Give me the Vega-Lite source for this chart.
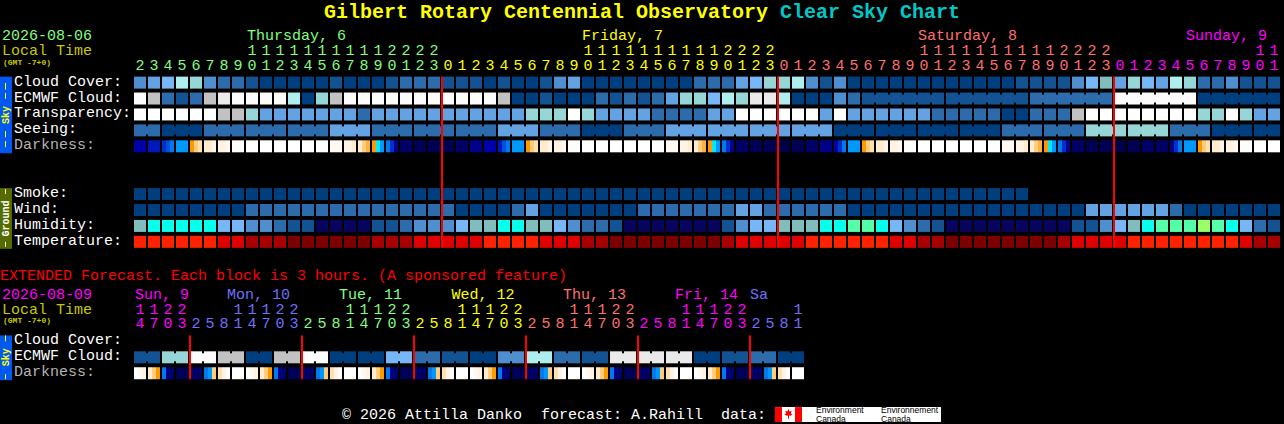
{
"$schema":"https://vega.github.io/schema/vega-lite/v6.json",
"description":"Clear Sky Chart block grid",
"width":1284,"height":424,"padding":0,
"autosize":{"type":"fit","contains":"padding"},
"background":"#000000",
"view":{"stroke":null},
"datasets":{
"cells":[
{"line":0,"slot":0,"level":"c30"},{"line":0,"slot":1,"level":"c40"},{"line":0,"slot":2,"level":"c50"},{"line":0,"slot":3,"level":"c70"},{"line":0,"slot":4,"level":"c60"},{"line":0,"slot":5,"level":"c30"},{"line":0,"slot":6,"level":"c20"},{"line":0,"slot":7,"level":"c20"},{"line":0,"slot":8,"level":"c10"},{"line":0,"slot":9,"level":"c0"},{"line":0,"slot":10,"level":"c0"},{"line":0,"slot":11,"level":"c0"},{"line":0,"slot":12,"level":"c0"},{"line":0,"slot":13,"level":"c0"},{"line":0,"slot":14,"level":"c10"},{"line":0,"slot":15,"level":"c0"},{"line":0,"slot":16,"level":"c0"},{"line":0,"slot":17,"level":"c0"},{"line":0,"slot":18,"level":"c10"},{"line":0,"slot":19,"level":"c20"},{"line":0,"slot":20,"level":"c20"},{"line":0,"slot":21,"level":"c20"},{"line":0,"slot":22,"level":"c10"},{"line":0,"slot":23,"level":"c10"},{"line":0,"slot":24,"level":"c10"},{"line":0,"slot":25,"level":"c0"},{"line":0,"slot":26,"level":"c10"},{"line":0,"slot":27,"level":"c0"},{"line":0,"slot":28,"level":"c0"},{"line":0,"slot":29,"level":"c10"},{"line":0,"slot":30,"level":"c30"},{"line":0,"slot":31,"level":"c40"},{"line":0,"slot":32,"level":"c0"},{"line":0,"slot":33,"level":"c0"},{"line":0,"slot":34,"level":"c0"},{"line":0,"slot":35,"level":"c0"},{"line":0,"slot":36,"level":"c0"},{"line":0,"slot":37,"level":"c0"},{"line":0,"slot":38,"level":"c0"},{"line":0,"slot":39,"level":"c0"},{"line":0,"slot":40,"level":"c20"},{"line":0,"slot":41,"level":"c20"},{"line":0,"slot":42,"level":"c20"},{"line":0,"slot":43,"level":"c40"},{"line":0,"slot":44,"level":"c50"},{"line":0,"slot":45,"level":"c60"},{"line":0,"slot":46,"level":"c60"},{"line":0,"slot":47,"level":"c70"},{"line":0,"slot":48,"level":"c30"},{"line":0,"slot":49,"level":"c10"},{"line":0,"slot":50,"level":"c30"},{"line":0,"slot":51,"level":"c0"},{"line":0,"slot":52,"level":"c0"},{"line":0,"slot":53,"level":"c0"},{"line":0,"slot":54,"level":"c0"},{"line":0,"slot":55,"level":"c0"},{"line":0,"slot":56,"level":"c0"},{"line":0,"slot":57,"level":"c0"},{"line":0,"slot":58,"level":"c0"},{"line":0,"slot":59,"level":"c0"},{"line":0,"slot":60,"level":"c0"},{"line":0,"slot":61,"level":"c0"},{"line":0,"slot":62,"level":"c0"},{"line":0,"slot":63,"level":"c10"},{"line":0,"slot":64,"level":"c10"},{"line":0,"slot":65,"level":"c10"},{"line":0,"slot":66,"level":"c10"},{"line":0,"slot":67,"level":"c30"},{"line":0,"slot":68,"level":"c50"},{"line":0,"slot":69,"level":"c55"},{"line":0,"slot":70,"level":"c40"},{"line":0,"slot":71,"level":"c60"},{"line":0,"slot":72,"level":"c50"},{"line":0,"slot":73,"level":"c40"},{"line":0,"slot":74,"level":"c70"},{"line":0,"slot":75,"level":"c60"},{"line":0,"slot":76,"level":"c20"},{"line":0,"slot":77,"level":"c20"},{"line":0,"slot":78,"level":"c30"},{"line":0,"slot":79,"level":"c10"},{"line":0,"slot":80,"level":"c10"},{"line":0,"slot":81,"level":"c10"},
{"line":1,"slot":0,"level":"c100"},{"line":1,"slot":1,"level":"c80"},{"line":1,"slot":2,"level":"c20"},{"line":1,"slot":3,"level":"c10"},{"line":1,"slot":4,"level":"c20"},{"line":1,"slot":5,"level":"c80"},{"line":1,"slot":6,"level":"c90"},{"line":1,"slot":7,"level":"c100"},{"line":1,"slot":8,"level":"c100"},{"line":1,"slot":9,"level":"c100"},{"line":1,"slot":10,"level":"c100"},{"line":1,"slot":11,"level":"c70"},{"line":1,"slot":12,"level":"c0"},{"line":1,"slot":13,"level":"c60"},{"line":1,"slot":14,"level":"c80"},{"line":1,"slot":15,"level":"c100"},{"line":1,"slot":16,"level":"c100"},{"line":1,"slot":17,"level":"c100"},{"line":1,"slot":18,"level":"c100"},{"line":1,"slot":19,"level":"c100"},{"line":1,"slot":20,"level":"c100"},{"line":1,"slot":21,"level":"c100"},{"line":1,"slot":22,"level":"c100"},{"line":1,"slot":23,"level":"c100"},{"line":1,"slot":24,"level":"c100"},{"line":1,"slot":25,"level":"c100"},{"line":1,"slot":26,"level":"c80"},{"line":1,"slot":27,"level":"c0"},{"line":1,"slot":28,"level":"c0"},{"line":1,"slot":29,"level":"c10"},{"line":1,"slot":30,"level":"c0"},{"line":1,"slot":31,"level":"c0"},{"line":1,"slot":32,"level":"c0"},{"line":1,"slot":33,"level":"c20"},{"line":1,"slot":34,"level":"c10"},{"line":1,"slot":35,"level":"c20"},{"line":1,"slot":36,"level":"c10"},{"line":1,"slot":37,"level":"c20"},{"line":1,"slot":38,"level":"c40"},{"line":1,"slot":39,"level":"c60"},{"line":1,"slot":40,"level":"c60"},{"line":1,"slot":41,"level":"c50"},{"line":1,"slot":42,"level":"c70"},{"line":1,"slot":43,"level":"c60"},{"line":1,"slot":44,"level":"c90"},{"line":1,"slot":45,"level":"c90"},{"line":1,"slot":46,"level":"c70"},{"line":1,"slot":47,"level":"c0"},{"line":1,"slot":48,"level":"c0"},{"line":1,"slot":49,"level":"c0"},{"line":1,"slot":50,"level":"c30"},{"line":1,"slot":51,"level":"c20"},{"line":1,"slot":52,"level":"c10"},{"line":1,"slot":53,"level":"c10"},{"line":1,"slot":54,"level":"c10"},{"line":1,"slot":55,"level":"c10"},{"line":1,"slot":56,"level":"c10"},{"line":1,"slot":57,"level":"c10"},{"line":1,"slot":58,"level":"c10"},{"line":1,"slot":59,"level":"c10"},{"line":1,"slot":60,"level":"c10"},{"line":1,"slot":61,"level":"c10"},{"line":1,"slot":62,"level":"c10"},{"line":1,"slot":63,"level":"c10"},{"line":1,"slot":64,"level":"c20"},{"line":1,"slot":65,"level":"c20"},{"line":1,"slot":66,"level":"c20"},{"line":1,"slot":67,"level":"c20"},{"line":1,"slot":68,"level":"c20"},{"line":1,"slot":69,"level":"c20"},{"line":1,"slot":70,"level":"c100"},{"line":1,"slot":71,"level":"c100"},{"line":1,"slot":72,"level":"c100"},{"line":1,"slot":73,"level":"c100"},{"line":1,"slot":74,"level":"c100"},{"line":1,"slot":75,"level":"c100"},{"line":1,"slot":76,"level":"c0"},{"line":1,"slot":77,"level":"c0"},{"line":1,"slot":78,"level":"c0"},{"line":1,"slot":79,"level":"c0"},{"line":1,"slot":80,"level":"c0"},{"line":1,"slot":81,"level":"c0"},
{"line":2,"slot":0,"level":"w"},{"line":2,"slot":1,"level":"w"},{"line":2,"slot":2,"level":"w"},{"line":2,"slot":3,"level":"w"},{"line":2,"slot":4,"level":"w"},{"line":2,"slot":5,"level":"w"},{"line":2,"slot":6,"level":"c80"},{"line":2,"slot":7,"level":"c80"},{"line":2,"slot":8,"level":"c60"},{"line":2,"slot":9,"level":"c40"},{"line":2,"slot":10,"level":"c40"},{"line":2,"slot":11,"level":"c40"},{"line":2,"slot":12,"level":"c40"},{"line":2,"slot":13,"level":"c40"},{"line":2,"slot":14,"level":"c40"},{"line":2,"slot":15,"level":"c40"},{"line":2,"slot":16,"level":"c20"},{"line":2,"slot":17,"level":"c40"},{"line":2,"slot":18,"level":"c40"},{"line":2,"slot":19,"level":"c40"},{"line":2,"slot":20,"level":"c40"},{"line":2,"slot":21,"level":"c40"},{"line":2,"slot":22,"level":"c40"},{"line":2,"slot":23,"level":"c40"},{"line":2,"slot":24,"level":"c40"},{"line":2,"slot":25,"level":"c40"},{"line":2,"slot":26,"level":"c40"},{"line":2,"slot":27,"level":"c40"},{"line":2,"slot":28,"level":"c60"},{"line":2,"slot":29,"level":"c60"},{"line":2,"slot":30,"level":"c60"},{"line":2,"slot":31,"level":"w"},{"line":2,"slot":32,"level":"c60"},{"line":2,"slot":33,"level":"c40"},{"line":2,"slot":34,"level":"c40"},{"line":2,"slot":35,"level":"c40"},{"line":2,"slot":36,"level":"c40"},{"line":2,"slot":37,"level":"c20"},{"line":2,"slot":38,"level":"c20"},{"line":2,"slot":39,"level":"c20"},{"line":2,"slot":40,"level":"c20"},{"line":2,"slot":41,"level":"c40"},{"line":2,"slot":42,"level":"c40"},{"line":2,"slot":43,"level":"w"},{"line":2,"slot":44,"level":"w"},{"line":2,"slot":45,"level":"w"},{"line":2,"slot":46,"level":"w"},{"line":2,"slot":47,"level":"w"},{"line":2,"slot":48,"level":"w"},{"line":2,"slot":49,"level":"c40"},{"line":2,"slot":50,"level":"w"},{"line":2,"slot":51,"level":"c40"},{"line":2,"slot":52,"level":"c40"},{"line":2,"slot":53,"level":"c40"},{"line":2,"slot":54,"level":"c40"},{"line":2,"slot":55,"level":"c40"},{"line":2,"slot":56,"level":"c40"},{"line":2,"slot":57,"level":"c20"},{"line":2,"slot":58,"level":"c20"},{"line":2,"slot":59,"level":"c20"},{"line":2,"slot":60,"level":"c20"},{"line":2,"slot":61,"level":"c20"},{"line":2,"slot":62,"level":"c0"},{"line":2,"slot":63,"level":"c0"},{"line":2,"slot":64,"level":"c20"},{"line":2,"slot":65,"level":"c20"},{"line":2,"slot":66,"level":"c20"},{"line":2,"slot":67,"level":"c80"},{"line":2,"slot":68,"level":"w"},{"line":2,"slot":69,"level":"w"},{"line":2,"slot":70,"level":"w"},{"line":2,"slot":71,"level":"w"},{"line":2,"slot":72,"level":"w"},{"line":2,"slot":73,"level":"w"},{"line":2,"slot":74,"level":"w"},{"line":2,"slot":75,"level":"w"},{"line":2,"slot":76,"level":"c60"},{"line":2,"slot":77,"level":"c60"},{"line":2,"slot":78,"level":"w"},{"line":2,"slot":79,"level":"c60"},{"line":2,"slot":80,"level":"c40"},{"line":2,"slot":81,"level":"c40"},
{"line":3,"slot":0,"level":"c20"},{"line":3,"slot":1,"level":"c20"},{"line":3,"slot":2,"level":"c0"},{"line":3,"slot":3,"level":"c0"},{"line":3,"slot":4,"level":"c0"},{"line":3,"slot":5,"level":"c20"},{"line":3,"slot":6,"level":"c20"},{"line":3,"slot":7,"level":"c20"},{"line":3,"slot":8,"level":"c20"},{"line":3,"slot":9,"level":"c20"},{"line":3,"slot":10,"level":"c20"},{"line":3,"slot":11,"level":"c20"},{"line":3,"slot":12,"level":"c20"},{"line":3,"slot":13,"level":"c20"},{"line":3,"slot":14,"level":"c40"},{"line":3,"slot":15,"level":"c40"},{"line":3,"slot":16,"level":"c40"},{"line":3,"slot":17,"level":"c20"},{"line":3,"slot":18,"level":"c20"},{"line":3,"slot":19,"level":"c20"},{"line":3,"slot":20,"level":"c20"},{"line":3,"slot":21,"level":"c20"},{"line":3,"slot":22,"level":"c20"},{"line":3,"slot":23,"level":"c20"},{"line":3,"slot":24,"level":"c20"},{"line":3,"slot":25,"level":"c20"},{"line":3,"slot":26,"level":"c40"},{"line":3,"slot":27,"level":"c40"},{"line":3,"slot":28,"level":"c40"},{"line":3,"slot":29,"level":"c20"},{"line":3,"slot":30,"level":"c20"},{"line":3,"slot":31,"level":"c20"},{"line":3,"slot":32,"level":"c0"},{"line":3,"slot":33,"level":"c0"},{"line":3,"slot":34,"level":"c0"},{"line":3,"slot":35,"level":"c20"},{"line":3,"slot":36,"level":"c20"},{"line":3,"slot":37,"level":"c20"},{"line":3,"slot":38,"level":"c40"},{"line":3,"slot":39,"level":"c40"},{"line":3,"slot":40,"level":"c40"},{"line":3,"slot":41,"level":"c40"},{"line":3,"slot":42,"level":"c40"},{"line":3,"slot":43,"level":"c40"},{"line":3,"slot":44,"level":"c40"},{"line":3,"slot":45,"level":"c40"},{"line":3,"slot":46,"level":"c40"},{"line":3,"slot":47,"level":"c40"},{"line":3,"slot":48,"level":"c40"},{"line":3,"slot":49,"level":"c40"},{"line":3,"slot":50,"level":"c0"},{"line":3,"slot":51,"level":"c0"},{"line":3,"slot":52,"level":"c0"},{"line":3,"slot":53,"level":"c0"},{"line":3,"slot":54,"level":"c0"},{"line":3,"slot":55,"level":"c0"},{"line":3,"slot":56,"level":"c0"},{"line":3,"slot":57,"level":"c0"},{"line":3,"slot":58,"level":"c0"},{"line":3,"slot":59,"level":"c0"},{"line":3,"slot":60,"level":"c0"},{"line":3,"slot":61,"level":"c0"},{"line":3,"slot":62,"level":"c20"},{"line":3,"slot":63,"level":"c20"},{"line":3,"slot":64,"level":"c20"},{"line":3,"slot":65,"level":"c20"},{"line":3,"slot":66,"level":"c20"},{"line":3,"slot":67,"level":"c20"},{"line":3,"slot":68,"level":"c60"},{"line":3,"slot":69,"level":"c60"},{"line":3,"slot":70,"level":"c60"},{"line":3,"slot":71,"level":"c60"},{"line":3,"slot":72,"level":"c60"},{"line":3,"slot":73,"level":"c60"},{"line":3,"slot":74,"level":"c20"},{"line":3,"slot":75,"level":"c20"},{"line":3,"slot":76,"level":"c20"},{"line":3,"slot":77,"level":"c0"},{"line":3,"slot":78,"level":"c0"},{"line":3,"slot":79,"level":"c0"},{"line":3,"slot":80,"level":"c0"},{"line":3,"slot":81,"level":"c0"},
{"line":4,"slot":0,"level":"n4"},{"line":4,"slot":1,"level":"b0"},{"line":4,"slot":3,"level":"b4"},{"line":4,"slot":7,"level":"o7"},{"line":4,"slot":8,"level":"w"},{"line":4,"slot":9,"level":"w"},{"line":4,"slot":10,"level":"w"},{"line":4,"slot":11,"level":"w"},{"line":4,"slot":12,"level":"w"},{"line":4,"slot":13,"level":"w"},{"line":4,"slot":14,"level":"o6"},{"line":4,"slot":19,"level":"n2"},{"line":4,"slot":20,"level":"n1"},{"line":4,"slot":21,"level":"n1"},{"line":4,"slot":22,"level":"n1"},{"line":4,"slot":23,"level":"n2"},{"line":4,"slot":24,"level":"n3"},{"line":4,"slot":25,"level":"n4"},{"line":4,"slot":27,"level":"b4"},{"line":4,"slot":31,"level":"o7"},{"line":4,"slot":32,"level":"w"},{"line":4,"slot":33,"level":"w"},{"line":4,"slot":34,"level":"w"},{"line":4,"slot":35,"level":"w"},{"line":4,"slot":36,"level":"w"},{"line":4,"slot":37,"level":"w"},{"line":4,"slot":38,"level":"o6"},{"line":4,"slot":43,"level":"n2"},{"line":4,"slot":44,"level":"n1"},{"line":4,"slot":45,"level":"n1"},{"line":4,"slot":46,"level":"n0"},{"line":4,"slot":47,"level":"n1"},{"line":4,"slot":48,"level":"n2"},{"line":4,"slot":49,"level":"n3"},{"line":4,"slot":51,"level":"b4"},{"line":4,"slot":55,"level":"o7"},{"line":4,"slot":56,"level":"w"},{"line":4,"slot":57,"level":"w"},{"line":4,"slot":58,"level":"w"},{"line":4,"slot":59,"level":"w"},{"line":4,"slot":60,"level":"w"},{"line":4,"slot":61,"level":"w"},{"line":4,"slot":62,"level":"o6"},{"line":4,"slot":67,"level":"n2"},{"line":4,"slot":68,"level":"n1"},{"line":4,"slot":69,"level":"n1"},{"line":4,"slot":70,"level":"n0"},{"line":4,"slot":71,"level":"n1"},{"line":4,"slot":72,"level":"n2"},{"line":4,"slot":73,"level":"n2"},{"line":4,"slot":75,"level":"b4"},{"line":4,"slot":79,"level":"o7"},{"line":4,"slot":80,"level":"w"},{"line":4,"slot":81,"level":"w"},
{"line":7,"slot":0,"level":"c0"},{"line":7,"slot":1,"level":"c0"},{"line":7,"slot":2,"level":"c0"},{"line":7,"slot":3,"level":"c0"},{"line":7,"slot":4,"level":"c0"},{"line":7,"slot":5,"level":"c0"},{"line":7,"slot":6,"level":"c0"},{"line":7,"slot":7,"level":"c0"},{"line":7,"slot":8,"level":"c0"},{"line":7,"slot":9,"level":"c0"},{"line":7,"slot":10,"level":"c0"},{"line":7,"slot":11,"level":"c0"},{"line":7,"slot":12,"level":"c0"},{"line":7,"slot":13,"level":"c0"},{"line":7,"slot":14,"level":"c0"},{"line":7,"slot":15,"level":"c0"},{"line":7,"slot":16,"level":"c0"},{"line":7,"slot":17,"level":"c0"},{"line":7,"slot":18,"level":"c0"},{"line":7,"slot":19,"level":"c0"},{"line":7,"slot":20,"level":"c0"},{"line":7,"slot":21,"level":"c0"},{"line":7,"slot":22,"level":"c0"},{"line":7,"slot":23,"level":"c0"},{"line":7,"slot":24,"level":"c0"},{"line":7,"slot":25,"level":"c0"},{"line":7,"slot":26,"level":"c0"},{"line":7,"slot":27,"level":"c0"},{"line":7,"slot":28,"level":"c0"},{"line":7,"slot":29,"level":"c0"},{"line":7,"slot":30,"level":"c0"},{"line":7,"slot":31,"level":"c0"},{"line":7,"slot":32,"level":"c0"},{"line":7,"slot":33,"level":"c0"},{"line":7,"slot":34,"level":"c0"},{"line":7,"slot":35,"level":"c0"},{"line":7,"slot":36,"level":"c0"},{"line":7,"slot":37,"level":"c0"},{"line":7,"slot":38,"level":"c0"},{"line":7,"slot":39,"level":"c0"},{"line":7,"slot":40,"level":"c0"},{"line":7,"slot":41,"level":"c0"},{"line":7,"slot":42,"level":"c0"},{"line":7,"slot":43,"level":"c0"},{"line":7,"slot":44,"level":"c0"},{"line":7,"slot":45,"level":"c0"},{"line":7,"slot":46,"level":"c0"},{"line":7,"slot":47,"level":"c0"},{"line":7,"slot":48,"level":"c0"},{"line":7,"slot":49,"level":"c0"},{"line":7,"slot":50,"level":"c0"},{"line":7,"slot":51,"level":"c0"},{"line":7,"slot":52,"level":"c0"},{"line":7,"slot":53,"level":"c0"},{"line":7,"slot":54,"level":"c0"},{"line":7,"slot":55,"level":"c0"},{"line":7,"slot":56,"level":"c0"},{"line":7,"slot":57,"level":"c0"},{"line":7,"slot":58,"level":"c0"},{"line":7,"slot":59,"level":"c0"},{"line":7,"slot":60,"level":"c0"},{"line":7,"slot":61,"level":"c0"},{"line":7,"slot":62,"level":"c0"},{"line":7,"slot":63,"level":"c0"},
{"line":8,"slot":0,"level":"c0"},{"line":8,"slot":1,"level":"c0"},{"line":8,"slot":2,"level":"c0"},{"line":8,"slot":3,"level":"c0"},{"line":8,"slot":4,"level":"c0"},{"line":8,"slot":5,"level":"c0"},{"line":8,"slot":6,"level":"c0"},{"line":8,"slot":7,"level":"c0"},{"line":8,"slot":8,"level":"c20"},{"line":8,"slot":9,"level":"c20"},{"line":8,"slot":10,"level":"c20"},{"line":8,"slot":11,"level":"c20"},{"line":8,"slot":12,"level":"c20"},{"line":8,"slot":13,"level":"c20"},{"line":8,"slot":14,"level":"c20"},{"line":8,"slot":15,"level":"c20"},{"line":8,"slot":16,"level":"c20"},{"line":8,"slot":17,"level":"c20"},{"line":8,"slot":18,"level":"c20"},{"line":8,"slot":19,"level":"c20"},{"line":8,"slot":20,"level":"c20"},{"line":8,"slot":21,"level":"c20"},{"line":8,"slot":22,"level":"c20"},{"line":8,"slot":23,"level":"c0"},{"line":8,"slot":24,"level":"c0"},{"line":8,"slot":25,"level":"c0"},{"line":8,"slot":26,"level":"c0"},{"line":8,"slot":27,"level":"c20"},{"line":8,"slot":28,"level":"c40"},{"line":8,"slot":29,"level":"c0"},{"line":8,"slot":30,"level":"c0"},{"line":8,"slot":31,"level":"c0"},{"line":8,"slot":32,"level":"c0"},{"line":8,"slot":33,"level":"c0"},{"line":8,"slot":34,"level":"c0"},{"line":8,"slot":35,"level":"c0"},{"line":8,"slot":36,"level":"c20"},{"line":8,"slot":37,"level":"c20"},{"line":8,"slot":38,"level":"c20"},{"line":8,"slot":39,"level":"c20"},{"line":8,"slot":40,"level":"c20"},{"line":8,"slot":41,"level":"c20"},{"line":8,"slot":42,"level":"c20"},{"line":8,"slot":43,"level":"c40"},{"line":8,"slot":44,"level":"c40"},{"line":8,"slot":45,"level":"c20"},{"line":8,"slot":46,"level":"c20"},{"line":8,"slot":47,"level":"c20"},{"line":8,"slot":48,"level":"c20"},{"line":8,"slot":49,"level":"c20"},{"line":8,"slot":50,"level":"c20"},{"line":8,"slot":51,"level":"c0"},{"line":8,"slot":52,"level":"c0"},{"line":8,"slot":53,"level":"c0"},{"line":8,"slot":54,"level":"c0"},{"line":8,"slot":55,"level":"c0"},{"line":8,"slot":56,"level":"c0"},{"line":8,"slot":57,"level":"c0"},{"line":8,"slot":58,"level":"c0"},{"line":8,"slot":59,"level":"c0"},{"line":8,"slot":60,"level":"c0"},{"line":8,"slot":61,"level":"c0"},{"line":8,"slot":62,"level":"c0"},{"line":8,"slot":63,"level":"c0"},{"line":8,"slot":64,"level":"c0"},{"line":8,"slot":65,"level":"c0"},{"line":8,"slot":66,"level":"c0"},{"line":8,"slot":67,"level":"c0"},{"line":8,"slot":68,"level":"c40"},{"line":8,"slot":69,"level":"c40"},{"line":8,"slot":70,"level":"c40"},{"line":8,"slot":71,"level":"c40"},{"line":8,"slot":72,"level":"c40"},{"line":8,"slot":73,"level":"c40"},{"line":8,"slot":74,"level":"c20"},{"line":8,"slot":75,"level":"c0"},{"line":8,"slot":76,"level":"c0"},{"line":8,"slot":77,"level":"c0"},{"line":8,"slot":78,"level":"c0"},{"line":8,"slot":79,"level":"c0"},{"line":8,"slot":80,"level":"c0"},{"line":8,"slot":81,"level":"c0"},
{"line":9,"slot":0,"level":"c55"},{"line":9,"slot":1,"level":"hc"},{"line":9,"slot":2,"level":"hc"},{"line":9,"slot":3,"level":"hc"},{"line":9,"slot":4,"level":"hc"},{"line":9,"slot":5,"level":"hc"},{"line":9,"slot":6,"level":"c50"},{"line":9,"slot":7,"level":"c50"},{"line":9,"slot":8,"level":"c30"},{"line":9,"slot":9,"level":"c30"},{"line":9,"slot":10,"level":"c20"},{"line":9,"slot":11,"level":"c10"},{"line":9,"slot":12,"level":"c10"},{"line":9,"slot":13,"level":"hn"},{"line":9,"slot":14,"level":"hn"},{"line":9,"slot":15,"level":"hn"},{"line":9,"slot":16,"level":"hn"},{"line":9,"slot":17,"level":"c10"},{"line":9,"slot":18,"level":"c10"},{"line":9,"slot":19,"level":"c20"},{"line":9,"slot":20,"level":"c30"},{"line":9,"slot":21,"level":"c30"},{"line":9,"slot":22,"level":"c30"},{"line":9,"slot":23,"level":"c50"},{"line":9,"slot":24,"level":"c55"},{"line":9,"slot":25,"level":"c55"},{"line":9,"slot":26,"level":"hc"},{"line":9,"slot":27,"level":"hc"},{"line":9,"slot":28,"level":"c55"},{"line":9,"slot":29,"level":"c55"},{"line":9,"slot":30,"level":"c50"},{"line":9,"slot":31,"level":"c30"},{"line":9,"slot":32,"level":"c20"},{"line":9,"slot":33,"level":"c20"},{"line":9,"slot":34,"level":"c10"},{"line":9,"slot":35,"level":"hn"},{"line":9,"slot":36,"level":"hn"},{"line":9,"slot":37,"level":"hn"},{"line":9,"slot":38,"level":"hn"},{"line":9,"slot":39,"level":"hn"},{"line":9,"slot":40,"level":"hn"},{"line":9,"slot":41,"level":"hn"},{"line":9,"slot":42,"level":"c10"},{"line":9,"slot":43,"level":"c30"},{"line":9,"slot":44,"level":"c50"},{"line":9,"slot":45,"level":"c50"},{"line":9,"slot":46,"level":"c55"},{"line":9,"slot":47,"level":"c55"},{"line":9,"slot":48,"level":"c55"},{"line":9,"slot":49,"level":"hc"},{"line":9,"slot":50,"level":"hc"},{"line":9,"slot":51,"level":"hg"},{"line":9,"slot":52,"level":"hg"},{"line":9,"slot":53,"level":"hc"},{"line":9,"slot":54,"level":"c50"},{"line":9,"slot":55,"level":"c30"},{"line":9,"slot":56,"level":"c20"},{"line":9,"slot":57,"level":"c10"},{"line":9,"slot":58,"level":"hn"},{"line":9,"slot":59,"level":"hn"},{"line":9,"slot":60,"level":"hn"},{"line":9,"slot":61,"level":"hn"},{"line":9,"slot":62,"level":"hn"},{"line":9,"slot":63,"level":"hn"},{"line":9,"slot":64,"level":"hn"},{"line":9,"slot":65,"level":"hn"},{"line":9,"slot":66,"level":"hn"},{"line":9,"slot":67,"level":"c10"},{"line":9,"slot":68,"level":"c10"},{"line":9,"slot":69,"level":"c30"},{"line":9,"slot":70,"level":"c50"},{"line":9,"slot":71,"level":"c55"},{"line":9,"slot":72,"level":"hc"},{"line":9,"slot":73,"level":"hg"},{"line":9,"slot":74,"level":"hg"},{"line":9,"slot":75,"level":"hg"},{"line":9,"slot":76,"level":"hl"},{"line":9,"slot":77,"level":"hg"},{"line":9,"slot":78,"level":"hc"},{"line":9,"slot":79,"level":"c50"},{"line":9,"slot":80,"level":"c20"},{"line":9,"slot":81,"level":"c10"},
{"line":10,"slot":0,"level":"t3"},{"line":10,"slot":1,"level":"t3"},{"line":10,"slot":2,"level":"t3"},{"line":10,"slot":3,"level":"t3"},{"line":10,"slot":4,"level":"t3"},{"line":10,"slot":5,"level":"t3"},{"line":10,"slot":6,"level":"t2"},{"line":10,"slot":7,"level":"t2"},{"line":10,"slot":8,"level":"t1"},{"line":10,"slot":9,"level":"t1"},{"line":10,"slot":10,"level":"t1"},{"line":10,"slot":11,"level":"t0"},{"line":10,"slot":12,"level":"t0"},{"line":10,"slot":13,"level":"t0"},{"line":10,"slot":14,"level":"t0"},{"line":10,"slot":15,"level":"t0"},{"line":10,"slot":16,"level":"t0"},{"line":10,"slot":17,"level":"t1"},{"line":10,"slot":18,"level":"t1"},{"line":10,"slot":19,"level":"t1"},{"line":10,"slot":20,"level":"t2"},{"line":10,"slot":21,"level":"t2"},{"line":10,"slot":22,"level":"t2"},{"line":10,"slot":23,"level":"t2"},{"line":10,"slot":24,"level":"t2"},{"line":10,"slot":25,"level":"t3"},{"line":10,"slot":26,"level":"t3"},{"line":10,"slot":27,"level":"t3"},{"line":10,"slot":28,"level":"t3"},{"line":10,"slot":29,"level":"t2"},{"line":10,"slot":30,"level":"t2"},{"line":10,"slot":31,"level":"t2"},{"line":10,"slot":32,"level":"t1"},{"line":10,"slot":33,"level":"t1"},{"line":10,"slot":34,"level":"t0"},{"line":10,"slot":35,"level":"t0"},{"line":10,"slot":36,"level":"t0"},{"line":10,"slot":37,"level":"t0"},{"line":10,"slot":38,"level":"t0"},{"line":10,"slot":39,"level":"t0"},{"line":10,"slot":40,"level":"t0"},{"line":10,"slot":41,"level":"t0"},{"line":10,"slot":42,"level":"t1"},{"line":10,"slot":43,"level":"t2"},{"line":10,"slot":44,"level":"t2"},{"line":10,"slot":45,"level":"t2"},{"line":10,"slot":46,"level":"t2"},{"line":10,"slot":47,"level":"t2"},{"line":10,"slot":48,"level":"t3"},{"line":10,"slot":49,"level":"t3"},{"line":10,"slot":50,"level":"t3"},{"line":10,"slot":51,"level":"t3"},{"line":10,"slot":52,"level":"t3"},{"line":10,"slot":53,"level":"t3"},{"line":10,"slot":54,"level":"t2"},{"line":10,"slot":55,"level":"t2"},{"line":10,"slot":56,"level":"t1"},{"line":10,"slot":57,"level":"t1"},{"line":10,"slot":58,"level":"t0"},{"line":10,"slot":59,"level":"t0"},{"line":10,"slot":60,"level":"t0"},{"line":10,"slot":61,"level":"t0"},{"line":10,"slot":62,"level":"t0"},{"line":10,"slot":63,"level":"t0"},{"line":10,"slot":64,"level":"t0"},{"line":10,"slot":65,"level":"t0"},{"line":10,"slot":66,"level":"t1"},{"line":10,"slot":67,"level":"t2"},{"line":10,"slot":68,"level":"t2"},{"line":10,"slot":69,"level":"t2"},{"line":10,"slot":70,"level":"t2"},{"line":10,"slot":71,"level":"t3"},{"line":10,"slot":72,"level":"t3"},{"line":10,"slot":73,"level":"t3"},{"line":10,"slot":74,"level":"t3"},{"line":10,"slot":75,"level":"t3"},{"line":10,"slot":76,"level":"t3"},{"line":10,"slot":77,"level":"t3"},{"line":10,"slot":78,"level":"t3"},{"line":10,"slot":79,"level":"t2"},{"line":10,"slot":80,"level":"t1"},{"line":10,"slot":81,"level":"t1"},
{"line":17.25,"slot":0,"level":"c10"},{"line":17.25,"slot":1,"level":"c10"},{"line":17.25,"slot":2,"level":"c60"},{"line":17.25,"slot":3,"level":"c60"},{"line":17.25,"slot":4,"level":"c100"},{"line":17.25,"slot":5,"level":"c100"},{"line":17.25,"slot":6,"level":"c80"},{"line":17.25,"slot":7,"level":"c80"},{"line":17.25,"slot":8,"level":"c0"},{"line":17.25,"slot":9,"level":"c0"},{"line":17.25,"slot":10,"level":"c80"},{"line":17.25,"slot":11,"level":"c80"},{"line":17.25,"slot":12,"level":"c100"},{"line":17.25,"slot":13,"level":"c100"},{"line":17.25,"slot":14,"level":"c0"},{"line":17.25,"slot":15,"level":"c0"},{"line":17.25,"slot":16,"level":"c0"},{"line":17.25,"slot":17,"level":"c0"},{"line":17.25,"slot":18,"level":"c50"},{"line":17.25,"slot":19,"level":"c50"},{"line":17.25,"slot":20,"level":"c20"},{"line":17.25,"slot":21,"level":"c20"},{"line":17.25,"slot":22,"level":"c10"},{"line":17.25,"slot":23,"level":"c10"},{"line":17.25,"slot":24,"level":"c0"},{"line":17.25,"slot":25,"level":"c0"},{"line":17.25,"slot":26,"level":"c30"},{"line":17.25,"slot":27,"level":"c30"},{"line":17.25,"slot":28,"level":"c70"},{"line":17.25,"slot":29,"level":"c70"},{"line":17.25,"slot":30,"level":"c20"},{"line":17.25,"slot":31,"level":"c20"},{"line":17.25,"slot":32,"level":"c10"},{"line":17.25,"slot":33,"level":"c10"},{"line":17.25,"slot":34,"level":"c90"},{"line":17.25,"slot":35,"level":"c90"},{"line":17.25,"slot":36,"level":"c90"},{"line":17.25,"slot":37,"level":"c90"},{"line":17.25,"slot":38,"level":"c90"},{"line":17.25,"slot":39,"level":"c90"},{"line":17.25,"slot":40,"level":"c0"},{"line":17.25,"slot":41,"level":"c0"},{"line":17.25,"slot":42,"level":"c10"},{"line":17.25,"slot":43,"level":"c10"},{"line":17.25,"slot":44,"level":"c20"},{"line":17.25,"slot":45,"level":"c20"},{"line":17.25,"slot":46,"level":"c0"},{"line":17.25,"slot":47,"level":"c0"},
{"line":18.25,"slot":3,"level":"n1"},{"line":18.25,"slot":4,"level":"n2"},{"line":18.25,"slot":7,"level":"w"},{"line":18.25,"slot":11,"level":"n1"},{"line":18.25,"slot":12,"level":"n2"},{"line":18.25,"slot":15,"level":"w"},{"line":18.25,"slot":19,"level":"n1"},{"line":18.25,"slot":20,"level":"n2"},{"line":18.25,"slot":23,"level":"w"},{"line":18.25,"slot":27,"level":"n1"},{"line":18.25,"slot":28,"level":"n2"},{"line":18.25,"slot":31,"level":"w"},{"line":18.25,"slot":35,"level":"n1"},{"line":18.25,"slot":36,"level":"n2"},{"line":18.25,"slot":39,"level":"w"},{"line":18.25,"slot":43,"level":"n1"},{"line":18.25,"slot":44,"level":"n2"},{"line":18.25,"slot":47,"level":"w"}
],
"joins":[
{"line":3,"slot":0.5,"level":"c20"},{"line":3,"slot":2.5,"level":"c0"},{"line":3,"slot":3.5,"level":"c0"},{"line":3,"slot":5.5,"level":"c20"},{"line":3,"slot":6.5,"level":"c20"},{"line":3,"slot":8.5,"level":"c20"},{"line":3,"slot":9.5,"level":"c20"},{"line":3,"slot":11.5,"level":"c20"},{"line":3,"slot":12.5,"level":"c20"},{"line":3,"slot":14.5,"level":"c40"},{"line":3,"slot":15.5,"level":"c40"},{"line":3,"slot":17.5,"level":"c20"},{"line":3,"slot":18.5,"level":"c20"},{"line":3,"slot":20.5,"level":"c20"},{"line":3,"slot":21.5,"level":"c20"},{"line":3,"slot":23.5,"level":"c20"},{"line":3,"slot":24.5,"level":"c20"},{"line":3,"slot":26.5,"level":"c40"},{"line":3,"slot":27.5,"level":"c40"},{"line":3,"slot":29.5,"level":"c20"},{"line":3,"slot":30.5,"level":"c20"},{"line":3,"slot":32.5,"level":"c0"},{"line":3,"slot":33.5,"level":"c0"},{"line":3,"slot":35.5,"level":"c20"},{"line":3,"slot":36.5,"level":"c20"},{"line":3,"slot":38.5,"level":"c40"},{"line":3,"slot":39.5,"level":"c40"},{"line":3,"slot":41.5,"level":"c40"},{"line":3,"slot":42.5,"level":"c40"},{"line":3,"slot":44.5,"level":"c40"},{"line":3,"slot":45.5,"level":"c40"},{"line":3,"slot":47.5,"level":"c40"},{"line":3,"slot":48.5,"level":"c40"},{"line":3,"slot":50.5,"level":"c0"},{"line":3,"slot":51.5,"level":"c0"},{"line":3,"slot":53.5,"level":"c0"},{"line":3,"slot":54.5,"level":"c0"},{"line":3,"slot":56.5,"level":"c0"},{"line":3,"slot":57.5,"level":"c0"},{"line":3,"slot":59.5,"level":"c0"},{"line":3,"slot":60.5,"level":"c0"},{"line":3,"slot":62.5,"level":"c20"},{"line":3,"slot":63.5,"level":"c20"},{"line":3,"slot":65.5,"level":"c20"},{"line":3,"slot":66.5,"level":"c20"},{"line":3,"slot":68.5,"level":"c60"},{"line":3,"slot":69.5,"level":"c60"},{"line":3,"slot":71.5,"level":"c60"},{"line":3,"slot":72.5,"level":"c60"},{"line":3,"slot":74.5,"level":"c20"},{"line":3,"slot":75.5,"level":"c20"},{"line":3,"slot":77.5,"level":"c0"},{"line":3,"slot":78.5,"level":"c0"},{"line":3,"slot":80.5,"level":"c0"},
{"line":1,"slot":52.5,"level":"c10"},{"line":1,"slot":53.5,"level":"c10"},{"line":1,"slot":54.5,"level":"c10"},{"line":1,"slot":55.5,"level":"c10"},{"line":1,"slot":56.5,"level":"c10"},{"line":1,"slot":58.5,"level":"c10"},{"line":1,"slot":59.5,"level":"c10"},{"line":1,"slot":60.5,"level":"c10"},{"line":1,"slot":61.5,"level":"c10"},{"line":1,"slot":62.5,"level":"c10"},{"line":1,"slot":64.5,"level":"c20"},{"line":1,"slot":65.5,"level":"c20"},{"line":1,"slot":66.5,"level":"c20"},{"line":1,"slot":67.5,"level":"c20"},{"line":1,"slot":68.5,"level":"c20"},{"line":1,"slot":70.5,"level":"c100"},{"line":1,"slot":71.5,"level":"c100"},{"line":1,"slot":72.5,"level":"c100"},{"line":1,"slot":73.5,"level":"c100"},{"line":1,"slot":74.5,"level":"c100"},{"line":1,"slot":76.5,"level":"c0"},{"line":1,"slot":77.5,"level":"c0"},{"line":1,"slot":78.5,"level":"c0"},{"line":1,"slot":79.5,"level":"c0"},{"line":1,"slot":80.5,"level":"c0"},
{"line":17.25,"slot":0.5,"level":"c10"},{"line":17.25,"slot":2.5,"level":"c60"},{"line":17.25,"slot":4.5,"level":"c100"},{"line":17.25,"slot":6.5,"level":"c80"},{"line":17.25,"slot":8.5,"level":"c0"},{"line":17.25,"slot":10.5,"level":"c80"},{"line":17.25,"slot":12.5,"level":"c100"},{"line":17.25,"slot":14.5,"level":"c0"},{"line":17.25,"slot":16.5,"level":"c0"},{"line":17.25,"slot":18.5,"level":"c50"},{"line":17.25,"slot":20.5,"level":"c20"},{"line":17.25,"slot":22.5,"level":"c10"},{"line":17.25,"slot":24.5,"level":"c0"},{"line":17.25,"slot":26.5,"level":"c30"},{"line":17.25,"slot":28.5,"level":"c70"},{"line":17.25,"slot":30.5,"level":"c20"},{"line":17.25,"slot":32.5,"level":"c10"},{"line":17.25,"slot":34.5,"level":"c90"},{"line":17.25,"slot":36.5,"level":"c90"},{"line":17.25,"slot":38.5,"level":"c90"},{"line":17.25,"slot":40.5,"level":"c0"},{"line":17.25,"slot":42.5,"level":"c10"},{"line":17.25,"slot":44.5,"level":"c20"},{"line":17.25,"slot":46.5,"level":"c0"}
],
"stripes":[
{"line":4,"slot":1.7143,"level":"b1"},{"line":4,"slot":2,"level":"b2"},{"line":4,"slot":2.2857,"level":"b3"},
{"line":4,"slot":3.7143,"level":"o0"},{"line":4,"slot":4,"level":"o2"},{"line":4,"slot":4.2857,"level":"o3"},
{"line":4,"slot":4.7143,"level":"o4"},{"line":4,"slot":5,"level":"o4"},{"line":4,"slot":5.2857,"level":"o5"},
{"line":4,"slot":5.7143,"level":"o5"},{"line":4,"slot":6,"level":"o5"},{"line":4,"slot":6.2857,"level":"o6"},
{"line":4,"slot":14.7143,"level":"o5"},{"line":4,"slot":15,"level":"o5"},{"line":4,"slot":15.2857,"level":"o4"},
{"line":4,"slot":15.7143,"level":"o4"},{"line":4,"slot":16,"level":"o2"},{"line":4,"slot":16.2857,"level":"o1"},
{"line":4,"slot":16.7143,"level":"o0"},{"line":4,"slot":17,"level":"cy"},{"line":4,"slot":17.2857,"level":"b4"},
{"line":4,"slot":17.7143,"level":"b3"},{"line":4,"slot":18,"level":"b1"},{"line":4,"slot":18.2857,"level":"n3"},
{"line":4,"slot":25.7143,"level":"b0"},{"line":4,"slot":26,"level":"b2"},{"line":4,"slot":26.2857,"level":"b3"},
{"line":4,"slot":27.7143,"level":"o0"},{"line":4,"slot":28,"level":"o2"},{"line":4,"slot":28.2857,"level":"o3"},
{"line":4,"slot":28.7143,"level":"o4"},{"line":4,"slot":29,"level":"o4"},{"line":4,"slot":29.2857,"level":"o5"},
{"line":4,"slot":29.7143,"level":"o5"},{"line":4,"slot":30,"level":"o5"},{"line":4,"slot":30.2857,"level":"o6"},
{"line":4,"slot":38.7143,"level":"o5"},{"line":4,"slot":39,"level":"o5"},{"line":4,"slot":39.2857,"level":"o4"},
{"line":4,"slot":39.7143,"level":"o4"},{"line":4,"slot":40,"level":"o2"},{"line":4,"slot":40.2857,"level":"o1"},
{"line":4,"slot":40.7143,"level":"o0"},{"line":4,"slot":41,"level":"cy"},{"line":4,"slot":41.2857,"level":"b4"},
{"line":4,"slot":41.7143,"level":"b3"},{"line":4,"slot":42,"level":"b1"},{"line":4,"slot":42.2857,"level":"n3"},
{"line":4,"slot":49.7143,"level":"n4"},{"line":4,"slot":50,"level":"b1"},{"line":4,"slot":50.2857,"level":"b3"},
{"line":4,"slot":51.7143,"level":"o0"},{"line":4,"slot":52,"level":"o2"},{"line":4,"slot":52.2857,"level":"o3"},
{"line":4,"slot":52.7143,"level":"o4"},{"line":4,"slot":53,"level":"o4"},{"line":4,"slot":53.2857,"level":"o5"},
{"line":4,"slot":53.7143,"level":"o5"},{"line":4,"slot":54,"level":"o5"},{"line":4,"slot":54.2857,"level":"o6"},
{"line":4,"slot":62.7143,"level":"o5"},{"line":4,"slot":63,"level":"o5"},{"line":4,"slot":63.2857,"level":"o4"},
{"line":4,"slot":63.7143,"level":"o4"},{"line":4,"slot":64,"level":"o2"},{"line":4,"slot":64.2857,"level":"o1"},
{"line":4,"slot":64.7143,"level":"o0"},{"line":4,"slot":65,"level":"cy"},{"line":4,"slot":65.2857,"level":"b4"},
{"line":4,"slot":65.7143,"level":"b3"},{"line":4,"slot":66,"level":"b1"},{"line":4,"slot":66.2857,"level":"n3"},
{"line":4,"slot":73.7143,"level":"n3"},{"line":4,"slot":74,"level":"b1"},{"line":4,"slot":74.2857,"level":"b3"},
{"line":4,"slot":75.7143,"level":"o0"},{"line":4,"slot":76,"level":"o2"},{"line":4,"slot":76.2857,"level":"o3"},
{"line":4,"slot":76.7143,"level":"o4"},{"line":4,"slot":77,"level":"o4"},{"line":4,"slot":77.2857,"level":"o5"},
{"line":4,"slot":77.7143,"level":"o5"},{"line":4,"slot":78,"level":"o5"},{"line":4,"slot":78.2857,"level":"o6"},
{"line":18.25,"slot":-0.2857,"level":"w"},{"line":18.25,"slot":0,"level":"o6"},{"line":18.25,"slot":0.2857,"level":"o5"},
{"line":18.25,"slot":0.7143,"level":"o4"},{"line":18.25,"slot":1,"level":"o2"},{"line":18.25,"slot":1.2857,"level":"o0"},
{"line":18.25,"slot":1.7143,"level":"b3"},{"line":18.25,"slot":2,"level":"n3"},{"line":18.25,"slot":2.2857,"level":"n2"},
{"line":18.25,"slot":4.7143,"level":"b3"},{"line":18.25,"slot":5,"level":"b4"},{"line":18.25,"slot":5.2857,"level":"o2"},
{"line":18.25,"slot":5.7143,"level":"o3"},{"line":18.25,"slot":6,"level":"o5"},{"line":18.25,"slot":6.2857,"level":"w"},
{"line":18.25,"slot":7.7143,"level":"w"},{"line":18.25,"slot":8,"level":"o6"},{"line":18.25,"slot":8.2857,"level":"o5"},
{"line":18.25,"slot":8.7143,"level":"o4"},{"line":18.25,"slot":9,"level":"o2"},{"line":18.25,"slot":9.2857,"level":"o0"},
{"line":18.25,"slot":9.7143,"level":"b3"},{"line":18.25,"slot":10,"level":"n3"},{"line":18.25,"slot":10.2857,"level":"n2"},
{"line":18.25,"slot":12.7143,"level":"b3"},{"line":18.25,"slot":13,"level":"b4"},{"line":18.25,"slot":13.2857,"level":"o2"},
{"line":18.25,"slot":13.7143,"level":"o3"},{"line":18.25,"slot":14,"level":"o5"},{"line":18.25,"slot":14.2857,"level":"w"},
{"line":18.25,"slot":15.7143,"level":"w"},{"line":18.25,"slot":16,"level":"o6"},{"line":18.25,"slot":16.2857,"level":"o5"},
{"line":18.25,"slot":16.7143,"level":"o4"},{"line":18.25,"slot":17,"level":"o2"},{"line":18.25,"slot":17.2857,"level":"o0"},
{"line":18.25,"slot":17.7143,"level":"b3"},{"line":18.25,"slot":18,"level":"n3"},{"line":18.25,"slot":18.2857,"level":"n2"},
{"line":18.25,"slot":20.7143,"level":"b3"},{"line":18.25,"slot":21,"level":"b4"},{"line":18.25,"slot":21.2857,"level":"o2"},
{"line":18.25,"slot":21.7143,"level":"o3"},{"line":18.25,"slot":22,"level":"o5"},{"line":18.25,"slot":22.2857,"level":"w"},
{"line":18.25,"slot":23.7143,"level":"w"},{"line":18.25,"slot":24,"level":"o6"},{"line":18.25,"slot":24.2857,"level":"o5"},
{"line":18.25,"slot":24.7143,"level":"o4"},{"line":18.25,"slot":25,"level":"o2"},{"line":18.25,"slot":25.2857,"level":"o0"},
{"line":18.25,"slot":25.7143,"level":"b3"},{"line":18.25,"slot":26,"level":"n3"},{"line":18.25,"slot":26.2857,"level":"n2"},
{"line":18.25,"slot":28.7143,"level":"b3"},{"line":18.25,"slot":29,"level":"b4"},{"line":18.25,"slot":29.2857,"level":"o2"},
{"line":18.25,"slot":29.7143,"level":"o3"},{"line":18.25,"slot":30,"level":"o5"},{"line":18.25,"slot":30.2857,"level":"w"},
{"line":18.25,"slot":31.7143,"level":"w"},{"line":18.25,"slot":32,"level":"o6"},{"line":18.25,"slot":32.2857,"level":"o5"},
{"line":18.25,"slot":32.7143,"level":"o4"},{"line":18.25,"slot":33,"level":"o2"},{"line":18.25,"slot":33.2857,"level":"o0"},
{"line":18.25,"slot":33.7143,"level":"b3"},{"line":18.25,"slot":34,"level":"n3"},{"line":18.25,"slot":34.2857,"level":"n2"},
{"line":18.25,"slot":36.7143,"level":"b3"},{"line":18.25,"slot":37,"level":"b4"},{"line":18.25,"slot":37.2857,"level":"o2"},
{"line":18.25,"slot":37.7143,"level":"o3"},{"line":18.25,"slot":38,"level":"o5"},{"line":18.25,"slot":38.2857,"level":"w"},
{"line":18.25,"slot":39.7143,"level":"w"},{"line":18.25,"slot":40,"level":"o6"},{"line":18.25,"slot":40.2857,"level":"o5"},
{"line":18.25,"slot":40.7143,"level":"o4"},{"line":18.25,"slot":41,"level":"o2"},{"line":18.25,"slot":41.2857,"level":"o0"},
{"line":18.25,"slot":41.7143,"level":"b3"},{"line":18.25,"slot":42,"level":"n3"},{"line":18.25,"slot":42.2857,"level":"n2"},
{"line":18.25,"slot":44.7143,"level":"b3"},{"line":18.25,"slot":45,"level":"b4"},{"line":18.25,"slot":45.2857,"level":"o2"},
{"line":18.25,"slot":45.7143,"level":"o3"},{"line":18.25,"slot":46,"level":"o5"},{"line":18.25,"slot":46.2857,"level":"w"}
],
"digits":[
{"slot":0,"line":-1.125,"label":"2","level":"green"},{"slot":1,"line":-1.125,"label":"3","level":"green"},{"slot":2,"line":-1.125,"label":"4","level":"green"},{"slot":3,"line":-1.125,"label":"5","level":"green"},{"slot":4,"line":-1.125,"label":"6","level":"green"},{"slot":5,"line":-1.125,"label":"7","level":"green"},{"slot":6,"line":-1.125,"label":"8","level":"green"},{"slot":7,"line":-1.125,"label":"9","level":"green"},{"slot":8,"line":-1.125,"label":"0","level":"green"},{"slot":9,"line":-1.125,"label":"1","level":"green"},{"slot":10,"line":-1.125,"label":"2","level":"green"},{"slot":11,"line":-1.125,"label":"3","level":"green"},{"slot":12,"line":-1.125,"label":"4","level":"green"},{"slot":13,"line":-1.125,"label":"5","level":"green"},{"slot":14,"line":-1.125,"label":"6","level":"green"},{"slot":15,"line":-1.125,"label":"7","level":"green"},{"slot":16,"line":-1.125,"label":"8","level":"green"},{"slot":17,"line":-1.125,"label":"9","level":"green"},{"slot":18,"line":-1.125,"label":"0","level":"green"},{"slot":19,"line":-1.125,"label":"1","level":"green"},{"slot":20,"line":-1.125,"label":"2","level":"green"},{"slot":21,"line":-1.125,"label":"3","level":"green"},
{"slot":22,"line":-1.125,"label":"0","level":"yellow"},{"slot":23,"line":-1.125,"label":"1","level":"yellow"},{"slot":24,"line":-1.125,"label":"2","level":"yellow"},{"slot":25,"line":-1.125,"label":"3","level":"yellow"},{"slot":26,"line":-1.125,"label":"4","level":"yellow"},{"slot":27,"line":-1.125,"label":"5","level":"yellow"},{"slot":28,"line":-1.125,"label":"6","level":"yellow"},{"slot":29,"line":-1.125,"label":"7","level":"yellow"},{"slot":30,"line":-1.125,"label":"8","level":"yellow"},{"slot":31,"line":-1.125,"label":"9","level":"yellow"},{"slot":32,"line":-1.125,"label":"0","level":"yellow"},{"slot":33,"line":-1.125,"label":"1","level":"yellow"},{"slot":34,"line":-1.125,"label":"2","level":"yellow"},{"slot":35,"line":-1.125,"label":"3","level":"yellow"},{"slot":36,"line":-1.125,"label":"4","level":"yellow"},{"slot":37,"line":-1.125,"label":"5","level":"yellow"},{"slot":38,"line":-1.125,"label":"6","level":"yellow"},{"slot":39,"line":-1.125,"label":"7","level":"yellow"},{"slot":40,"line":-1.125,"label":"8","level":"yellow"},{"slot":41,"line":-1.125,"label":"9","level":"yellow"},{"slot":42,"line":-1.125,"label":"0","level":"yellow"},{"slot":43,"line":-1.125,"label":"1","level":"yellow"},{"slot":44,"line":-1.125,"label":"2","level":"yellow"},{"slot":45,"line":-1.125,"label":"3","level":"yellow"},
{"slot":46,"line":-1.125,"label":"0","level":"pink"},{"slot":47,"line":-1.125,"label":"1","level":"pink"},{"slot":48,"line":-1.125,"label":"2","level":"pink"},{"slot":49,"line":-1.125,"label":"3","level":"pink"},{"slot":50,"line":-1.125,"label":"4","level":"pink"},{"slot":51,"line":-1.125,"label":"5","level":"pink"},{"slot":52,"line":-1.125,"label":"6","level":"pink"},{"slot":53,"line":-1.125,"label":"7","level":"pink"},{"slot":54,"line":-1.125,"label":"8","level":"pink"},{"slot":55,"line":-1.125,"label":"9","level":"pink"},{"slot":56,"line":-1.125,"label":"0","level":"pink"},{"slot":57,"line":-1.125,"label":"1","level":"pink"},{"slot":58,"line":-1.125,"label":"2","level":"pink"},{"slot":59,"line":-1.125,"label":"3","level":"pink"},{"slot":60,"line":-1.125,"label":"4","level":"pink"},{"slot":61,"line":-1.125,"label":"5","level":"pink"},{"slot":62,"line":-1.125,"label":"6","level":"pink"},{"slot":63,"line":-1.125,"label":"7","level":"pink"},{"slot":64,"line":-1.125,"label":"8","level":"pink"},{"slot":65,"line":-1.125,"label":"9","level":"pink"},{"slot":66,"line":-1.125,"label":"0","level":"pink"},{"slot":67,"line":-1.125,"label":"1","level":"pink"},{"slot":68,"line":-1.125,"label":"2","level":"pink"},{"slot":69,"line":-1.125,"label":"3","level":"pink"},
{"slot":70,"line":-1.125,"label":"0","level":"magenta"},{"slot":71,"line":-1.125,"label":"1","level":"magenta"},{"slot":72,"line":-1.125,"label":"2","level":"magenta"},{"slot":73,"line":-1.125,"label":"3","level":"magenta"},{"slot":74,"line":-1.125,"label":"4","level":"magenta"},{"slot":75,"line":-1.125,"label":"5","level":"magenta"},{"slot":76,"line":-1.125,"label":"6","level":"magenta"},{"slot":77,"line":-1.125,"label":"7","level":"magenta"},{"slot":78,"line":-1.125,"label":"8","level":"magenta"},{"slot":79,"line":-1.125,"label":"9","level":"magenta"},{"slot":80,"line":-1.125,"label":"0","level":"magenta"},{"slot":81,"line":-1.125,"label":"1","level":"magenta"},
{"slot":8,"line":-2.06,"label":"1","level":"green"},{"slot":9,"line":-2.06,"label":"1","level":"green"},{"slot":10,"line":-2.06,"label":"1","level":"green"},{"slot":11,"line":-2.06,"label":"1","level":"green"},{"slot":12,"line":-2.06,"label":"1","level":"green"},{"slot":13,"line":-2.06,"label":"1","level":"green"},{"slot":14,"line":-2.06,"label":"1","level":"green"},{"slot":15,"line":-2.06,"label":"1","level":"green"},{"slot":16,"line":-2.06,"label":"1","level":"green"},{"slot":17,"line":-2.06,"label":"1","level":"green"},{"slot":18,"line":-2.06,"label":"2","level":"green"},{"slot":19,"line":-2.06,"label":"2","level":"green"},{"slot":20,"line":-2.06,"label":"2","level":"green"},{"slot":21,"line":-2.06,"label":"2","level":"green"},
{"slot":32,"line":-2.06,"label":"1","level":"yellow"},{"slot":33,"line":-2.06,"label":"1","level":"yellow"},{"slot":34,"line":-2.06,"label":"1","level":"yellow"},{"slot":35,"line":-2.06,"label":"1","level":"yellow"},{"slot":36,"line":-2.06,"label":"1","level":"yellow"},{"slot":37,"line":-2.06,"label":"1","level":"yellow"},{"slot":38,"line":-2.06,"label":"1","level":"yellow"},{"slot":39,"line":-2.06,"label":"1","level":"yellow"},{"slot":40,"line":-2.06,"label":"1","level":"yellow"},{"slot":41,"line":-2.06,"label":"1","level":"yellow"},{"slot":42,"line":-2.06,"label":"2","level":"yellow"},{"slot":43,"line":-2.06,"label":"2","level":"yellow"},{"slot":44,"line":-2.06,"label":"2","level":"yellow"},{"slot":45,"line":-2.06,"label":"2","level":"yellow"},
{"slot":56,"line":-2.06,"label":"1","level":"pink"},{"slot":57,"line":-2.06,"label":"1","level":"pink"},{"slot":58,"line":-2.06,"label":"1","level":"pink"},{"slot":59,"line":-2.06,"label":"1","level":"pink"},{"slot":60,"line":-2.06,"label":"1","level":"pink"},{"slot":61,"line":-2.06,"label":"1","level":"pink"},{"slot":62,"line":-2.06,"label":"1","level":"pink"},{"slot":63,"line":-2.06,"label":"1","level":"pink"},{"slot":64,"line":-2.06,"label":"1","level":"pink"},{"slot":65,"line":-2.06,"label":"1","level":"pink"},{"slot":66,"line":-2.06,"label":"2","level":"pink"},{"slot":67,"line":-2.06,"label":"2","level":"pink"},{"slot":68,"line":-2.06,"label":"2","level":"pink"},{"slot":69,"line":-2.06,"label":"2","level":"pink"},
{"slot":80,"line":-2.06,"label":"1","level":"magenta"},{"slot":81,"line":-2.06,"label":"1","level":"magenta"},
{"slot":0,"line":15.125,"label":"4","level":"magenta"},{"slot":1,"line":15.125,"label":"7","level":"magenta"},{"slot":2,"line":15.125,"label":"0","level":"magenta"},{"slot":3,"line":15.125,"label":"3","level":"magenta"},
{"slot":4,"line":15.125,"label":"2","level":"blue"},{"slot":5,"line":15.125,"label":"5","level":"blue"},{"slot":6,"line":15.125,"label":"8","level":"blue"},{"slot":7,"line":15.125,"label":"1","level":"blue"},{"slot":8,"line":15.125,"label":"4","level":"blue"},{"slot":9,"line":15.125,"label":"7","level":"blue"},{"slot":10,"line":15.125,"label":"0","level":"blue"},{"slot":11,"line":15.125,"label":"3","level":"blue"},
{"slot":12,"line":15.125,"label":"2","level":"green"},{"slot":13,"line":15.125,"label":"5","level":"green"},{"slot":14,"line":15.125,"label":"8","level":"green"},{"slot":15,"line":15.125,"label":"1","level":"green"},{"slot":16,"line":15.125,"label":"4","level":"green"},{"slot":17,"line":15.125,"label":"7","level":"green"},{"slot":18,"line":15.125,"label":"0","level":"green"},{"slot":19,"line":15.125,"label":"3","level":"green"},
{"slot":20,"line":15.125,"label":"2","level":"yellow"},{"slot":21,"line":15.125,"label":"5","level":"yellow"},{"slot":22,"line":15.125,"label":"8","level":"yellow"},{"slot":23,"line":15.125,"label":"1","level":"yellow"},{"slot":24,"line":15.125,"label":"4","level":"yellow"},{"slot":25,"line":15.125,"label":"7","level":"yellow"},{"slot":26,"line":15.125,"label":"0","level":"yellow"},{"slot":27,"line":15.125,"label":"3","level":"yellow"},
{"slot":28,"line":15.125,"label":"2","level":"pink"},{"slot":29,"line":15.125,"label":"5","level":"pink"},{"slot":30,"line":15.125,"label":"8","level":"pink"},{"slot":31,"line":15.125,"label":"1","level":"pink"},{"slot":32,"line":15.125,"label":"4","level":"pink"},{"slot":33,"line":15.125,"label":"7","level":"pink"},{"slot":34,"line":15.125,"label":"0","level":"pink"},{"slot":35,"line":15.125,"label":"3","level":"pink"},
{"slot":36,"line":15.125,"label":"2","level":"magenta"},{"slot":37,"line":15.125,"label":"5","level":"magenta"},{"slot":38,"line":15.125,"label":"8","level":"magenta"},{"slot":39,"line":15.125,"label":"1","level":"magenta"},{"slot":40,"line":15.125,"label":"4","level":"magenta"},{"slot":41,"line":15.125,"label":"7","level":"magenta"},{"slot":42,"line":15.125,"label":"0","level":"magenta"},{"slot":43,"line":15.125,"label":"3","level":"magenta"},
{"slot":44,"line":15.125,"label":"2","level":"blue"},{"slot":45,"line":15.125,"label":"5","level":"blue"},{"slot":46,"line":15.125,"label":"8","level":"blue"},{"slot":47,"line":15.125,"label":"1","level":"blue"},
{"slot":0,"line":14.19,"label":"1","level":"magenta"},{"slot":1,"line":14.19,"label":"1","level":"magenta"},{"slot":2,"line":14.19,"label":"2","level":"magenta"},{"slot":3,"line":14.19,"label":"2","level":"magenta"},
{"slot":7,"line":14.19,"label":"1","level":"blue"},{"slot":8,"line":14.19,"label":"1","level":"blue"},{"slot":9,"line":14.19,"label":"1","level":"blue"},{"slot":10,"line":14.19,"label":"2","level":"blue"},{"slot":11,"line":14.19,"label":"2","level":"blue"},
{"slot":15,"line":14.19,"label":"1","level":"green"},{"slot":16,"line":14.19,"label":"1","level":"green"},{"slot":17,"line":14.19,"label":"1","level":"green"},{"slot":18,"line":14.19,"label":"2","level":"green"},{"slot":19,"line":14.19,"label":"2","level":"green"},
{"slot":23,"line":14.19,"label":"1","level":"yellow"},{"slot":24,"line":14.19,"label":"1","level":"yellow"},{"slot":25,"line":14.19,"label":"1","level":"yellow"},{"slot":26,"line":14.19,"label":"2","level":"yellow"},{"slot":27,"line":14.19,"label":"2","level":"yellow"},
{"slot":31,"line":14.19,"label":"1","level":"pink"},{"slot":32,"line":14.19,"label":"1","level":"pink"},{"slot":33,"line":14.19,"label":"1","level":"pink"},{"slot":34,"line":14.19,"label":"2","level":"pink"},{"slot":35,"line":14.19,"label":"2","level":"pink"},
{"slot":39,"line":14.19,"label":"1","level":"magenta"},{"slot":40,"line":14.19,"label":"1","level":"magenta"},{"slot":41,"line":14.19,"label":"1","level":"magenta"},{"slot":42,"line":14.19,"label":"2","level":"magenta"},{"slot":43,"line":14.19,"label":"2","level":"magenta"},
{"slot":47,"line":14.19,"label":"1","level":"blue"}
],
"captions":[
{"slot":-9.857,"line":-3,"label":"2026-08-06","level":"green"},
{"slot":-9.857,"line":-2.0625,"label":"Local Time","level":"dimyellow"},
{"slot":7.643,"line":-3,"label":"Thursday, 6","level":"green"},
{"slot":31.571,"line":-3,"label":"Friday, 7","level":"yellow"},
{"slot":55.571,"line":-3,"label":"Saturday, 8","level":"pink"},
{"slot":74.714,"line":-3,"label":"Sunday, 9","level":"magenta"},
{"slot":-9,"line":-0.125,"label":"Cloud Cover:","level":"white"},
{"slot":-9,"line":0.875,"label":"ECMWF Cloud:","level":"white"},
{"slot":-9,"line":1.875,"label":"Transparency:","level":"white"},
{"slot":-9,"line":2.875,"label":"Seeing:","level":"white"},
{"slot":-9,"line":3.875,"label":"Darkness:","level":"grey"},
{"slot":-9,"line":6.875,"label":"Smoke:","level":"white"},
{"slot":-9,"line":7.875,"label":"Wind:","level":"white"},
{"slot":-9,"line":8.875,"label":"Humidity:","level":"white"},
{"slot":-9,"line":9.875,"label":"Temperature:","level":"white"},
{"slot":-10,"line":12.06,"label":"EXTENDED Forecast. Each block is 3 hours. (A sponsored feature)","level":"red"},
{"slot":-9.857,"line":13.25,"label":"2026-08-09","level":"magenta"},
{"slot":-9.857,"line":14.1875,"label":"Local Time","level":"dimyellow"},
{"slot":-0.357,"line":13.25,"label":"Sun, 9","level":"magenta"},
{"slot":6.214,"line":13.25,"label":"Mon, 10","level":"blue"},
{"slot":14.214,"line":13.25,"label":"Tue, 11","level":"green"},
{"slot":22.25,"line":13.25,"label":"Wed, 12","level":"yellow"},
{"slot":30.214,"line":13.25,"label":"Thu, 13","level":"pink"},
{"slot":38.214,"line":13.25,"label":"Fri, 14","level":"magenta"},
{"slot":43.571,"line":13.25,"label":"Sa","level":"blue"},
{"slot":-9,"line":16.125,"label":"Cloud Cover:","level":"white"},
{"slot":-9,"line":17.125,"label":"ECMWF Cloud:","level":"white"},
{"slot":-9,"line":18.125,"label":"Darkness:","level":"grey"},
{"slot":14.43,"line":20.81,"label":"© 2026 Attilla Danko","level":"white"},
{"slot":28.64,"line":20.81,"label":"forecast: A.Rahill","level":"white"},
{"slot":41.5,"line":20.81,"label":"data:","level":"white"}
],
"titles":[
{"slot":13.143,"line":-4.4375,"label":"Gilbert Rotary Centennial Observatory","level":"yellow"},
{"slot":45.714,"line":-4.4375,"label":"Clear Sky Chart","level":"cyan"}
],
"tiny":[
{"slot":-9.786,"line":-1.25,"label":"(GMT -7+0)","level":"dimyellow"},
{"slot":-9.786,"line":14.97,"label":"(GMT -7+0)","level":"dimyellow"}
],
"side":[
{"slot":-9.571,"line":2.03,"label":"Sky","level":"yellow"},
{"slot":-9.571,"line":8.53,"label":"Ground","level":"white"},
{"slot":-9.571,"line":17.25,"label":"Sky","level":"yellow"}
],
"dashes":[
{"slot":-9.607,"top":0.02,"bottom":0.4375,"level":"yellow"},{"slot":-9.607,"top":0.644,"bottom":1.02,"level":"yellow"},{"slot":-9.607,"top":3.04,"bottom":3.44,"level":"yellow"},{"slot":-9.607,"top":3.67,"bottom":4.06,"level":"yellow"},
{"slot":-9.607,"top":6.69,"bottom":7,"level":"white"},{"slot":-9.607,"top":10,"bottom":10.31,"level":"white"},
{"slot":-9.607,"top":15.875,"bottom":16.25,"level":"yellow"},{"slot":-9.607,"top":18.31,"bottom":18.625,"level":"yellow"}
],
"midnights":[
{"slot":21.571,"top":-0.375,"bottom":10.375,"level":"red"},{"slot":45.571,"top":-0.375,"bottom":10.375,"level":"red"},{"slot":69.571,"top":-0.375,"bottom":10.375,"level":"red"},
{"slot":3.571,"top":15.875,"bottom":18.625,"level":"red"},{"slot":11.571,"top":15.875,"bottom":18.625,"level":"red"},{"slot":19.571,"top":15.875,"bottom":18.625,"level":"red"},{"slot":27.571,"top":15.875,"bottom":18.625,"level":"red"},{"slot":35.571,"top":15.875,"bottom":18.625,"level":"red"},{"slot":43.571,"top":15.875,"bottom":18.625,"level":"red"}
],
"panels":[
{"start":-10,"end":-9.143,"top":-0.375,"bottom":4.4375,"level":"sky"},
{"start":-10,"end":-9.143,"top":6.625,"bottom":10.4375,"level":"ground"},
{"start":-10,"end":-9.143,"top":15.875,"bottom":18.6875,"level":"sky"},
{"start":45.357,"end":57.214,"top":20.375,"bottom":21.3125,"level":"white"},
{"start":45.357,"end":45.857,"top":20.375,"bottom":21.3125,"level":"red"},
{"start":46.786,"end":47.286,"top":20.375,"bottom":21.3125,"level":"red"}
],
"logo":[
{"slot":48.286,"line":20.59,"label":"Environment","level":"black"},
{"slot":48.286,"line":21.125,"label":"Canada","level":"black"},
{"slot":52.93,"line":20.59,"label":"Environnement","level":"black"},
{"slot":52.93,"line":21.125,"label":"Canada","level":"black"}
],
"leaf":[{"slot":46.32,"line":20.81,"level":"red"}]
},
"encoding":{
"x":{"field":"slot","type":"quantitative","axis":null,"scale":{"domain":[-10,81.7142857],"nice":false,"zero":false}},
"y":{"field":"line","type":"quantitative","axis":null,"scale":{"domain":[-5.1875,21.3125],"nice":false,"zero":false,"reverse":true}},
"color":{"field":"level","type":"nominal","legend":null,"scale":{
"domain":["c0","c10","c20","c30","c40","c50","c55","c60","c70","c80","c90","c100","w","n0","n1","n2","n3","n4","b0","b1","b2","b3","b4","cy","o0","o1","o2","o3","o4","o5","o6","o7","hn","hc","hg","hl","t0","t1","t2","t3","green","yellow","dimyellow","pink","magenta","blue","white","grey","red","cyan","black","sky","ground"],
"range":["#003F7F","#135393","#2C6CAC","#4F8FCF","#63A3E3","#77B7F7","#80BDBD","#96D6D6","#AEEEEE","#C2C2C2","#EAEAEA","#FCFCFC","#FFFFFF","#000048","#000055","#000066","#000088","#0000AA","#0018BB","#0030CC","#0050DD","#0078EE","#0098FF","#00E8FF","#FF9900","#FFB040","#FFCC80","#FFE0B0","#FFEBD0","#FFF3E3","#FFF9F2","#FFFDFA","#08035D","#08FFEC","#55FFAA","#99FF66","#7C0000","#A80000","#E00000","#FF2200","#80FF80","#FFFF00","#C8C800","#FF7070","#FF00FF","#7070FF","#FFFFFF","#B4B4B4","#FF0000","#00C8C8","#000000","#0058F0","#556B00"]}}
},
"layer":[
{"data":{"name":"panels"},"mark":{"type":"rect"},"encoding":{"x":{"field":"start","type":"quantitative"},"x2":{"field":"end"},"y":{"field":"top","type":"quantitative"},"y2":{"field":"bottom"}}},
{"data":{"name":"cells"},"mark":{"type":"rect","width":12,"height":12}},
{"data":{"name":"joins"},"mark":{"type":"rect","width":4,"height":8}},
{"data":{"name":"stripes"},"mark":{"type":"rect","width":4,"height":12}},
{"data":{"name":"midnights"},"mark":{"type":"rule","strokeWidth":2},"encoding":{"y":{"field":"top","type":"quantitative"},"y2":{"field":"bottom"}}},
{"data":{"name":"dashes"},"mark":{"type":"rule","strokeWidth":1},"encoding":{"y":{"field":"top","type":"quantitative"},"y2":{"field":"bottom"}}},
{"data":{"name":"leaf"},"mark":{"type":"point","filled":true,"opacity":1,"size":110,"shape":"M0,-1L0.2,-0.5L0.6,-0.6L0.45,-0.1L0.8,0.05L0.4,0.35L0.1,0.3L0.1,0.9L-0.1,0.9L-0.1,0.3L-0.4,0.35L-0.8,0.05L-0.45,-0.1L-0.6,-0.6L-0.2,-0.5Z"}},
{"data":{"name":"digits"},"mark":{"type":"text","font":"Liberation Mono","fontSize":15,"align":"center","baseline":"middle"},"encoding":{"text":{"field":"label"}}},
{"data":{"name":"captions"},"mark":{"type":"text","font":"Liberation Mono","fontSize":15,"align":"left","baseline":"middle"},"encoding":{"text":{"field":"label"}}},
{"data":{"name":"titles"},"mark":{"type":"text","font":"Liberation Mono","fontSize":20,"fontWeight":"bold","align":"left","baseline":"middle"},"encoding":{"text":{"field":"label"}}},
{"data":{"name":"tiny"},"mark":{"type":"text","font":"Liberation Mono","fontSize":8,"fontWeight":"bold","align":"left","baseline":"middle"},"encoding":{"text":{"field":"label"}}},
{"data":{"name":"side"},"mark":{"type":"text","font":"Liberation Mono","fontSize":10,"fontWeight":"bold","angle":270,"align":"center","baseline":"middle"},"encoding":{"text":{"field":"label"}}},
{"data":{"name":"logo"},"mark":{"type":"text","font":"Liberation Sans","fontSize":8.5,"align":"left","baseline":"middle"},"encoding":{"text":{"field":"label"}}}
]
}
